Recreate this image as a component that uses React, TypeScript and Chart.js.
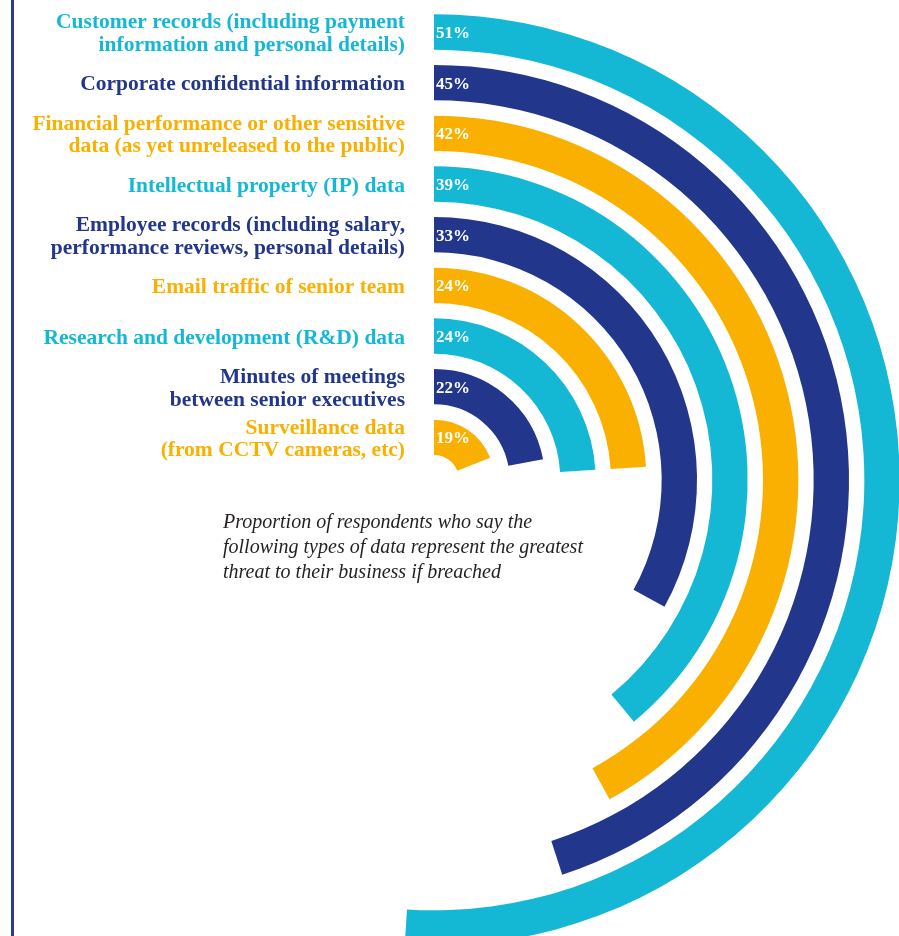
import { useEffect, useRef } from "react";
import { Chart, DoughnutController, ArcElement } from "chart.js";

Chart.register(DoughnutController, ArcElement);

// ---- data ----
const categories: string[][] = [
  ["Customer records (including payment", "information and personal details)"],
  ["Corporate confidential information"],
  ["Financial performance or other sensitive", "data (as yet unreleased to the public)"],
  ["Intellectual property (IP) data"],
  ["Employee records (including salary,", "performance reviews, personal details)"],
  ["Email traffic of senior team"],
  ["Research and development (R&D) data"],
  ["Minutes of meetings", "between senior executives"],
  ["Surveillance data", "(from CCTV cameras, etc)"],
];
const values: number[] = [51, 45, 42, 39, 33, 24, 24, 22, 19];
const captionLines: string[] = [
  "Proportion of respondents who say the",
  "following types of data represent the greatest",
  "threat to their business if breached",
];

// ---- styles ----
const TEAL = "#14b8d4";
const NAVY = "#22368b";
const ORANGE = "#f9b000";
const ringColors = [TEAL, NAVY, ORANGE, TEAL, NAVY, ORANGE, TEAL, NAVY, ORANGE];
const CLEAR = "rgba(0,0,0,0)";
const RING_W = 36;
const GAP_W = 14.66;
const CUTOUT = 24.7;

export default function App() {
  const canvasRef = useRef<HTMLCanvasElement | null>(null);

  useEffect(() => {
    if (!canvasRef.current) return;
    const datasets: any[] = [];
    const ringIndex: number[] = [];
    values.forEach((v, i) => {
      ringIndex.push(datasets.length);
      datasets.push({
        label: categories[i].join(" "),
        data: [v, 100 - v],
        backgroundColor: [ringColors[i], CLEAR],
        hoverBackgroundColor: [ringColors[i], CLEAR],
        borderWidth: 0,
        hoverBorderWidth: 0,
        borderAlign: "inner",
        weight: RING_W,
      });
      if (i < values.length - 1) {
        datasets.push({
          label: "gap",
          data: [100],
          backgroundColor: [CLEAR],
          hoverBackgroundColor: [CLEAR],
          borderWidth: 0,
          hoverBorderWidth: 0,
          borderAlign: "inner",
          weight: GAP_W,
        });
      }
    });

    const labelPlugin = {
      id: "ringLabels",
      afterDatasetsDraw(chart: any) {
        const ctx = chart.ctx as CanvasRenderingContext2D;
        ctx.save();
        ringIndex.forEach((dsIndex, i) => {
          const meta = chart.getDatasetMeta(dsIndex);
          const arc = meta.data[0];
          const p = arc.getProps(["x", "y", "innerRadius", "outerRadius", "startAngle"], true);
          const mid = (p.innerRadius + p.outerRadius) / 2;
          const sx = p.x + mid * Math.cos(p.startAngle);
          const sy = p.y + mid * Math.sin(p.startAngle);

          // category label
          const fs = 21.5;
          const lh = 22.7;
          ctx.font = `bold ${fs}px "Liberation Serif", "Times New Roman", serif`;
          ctx.textAlign = "right";
          ctx.textBaseline = "alphabetic";
          ctx.fillStyle = ringColors[i];
          const lines = categories[i];
          lines.forEach((line, j) => {
            const cy = sy + (j - (lines.length - 1) / 2) * lh;
            ctx.fillText(line, sx - 29, cy + 0.33 * fs + 0.6);
          });

          // value label
          ctx.font = `bold 17px "Liberation Serif", "Times New Roman", serif`;
          ctx.textAlign = "left";
          ctx.fillStyle = "#ffffff";
          ctx.fillText(`${values[i]}%`, sx + 2, sy + 6);
        });
        ctx.restore();
      },
    };

    const chart = new Chart(canvasRef.current, {
      type: "doughnut",
      data: { labels: ["value", "rest"], datasets },
      options: {
        responsive: true,
        maintainAspectRatio: false,
        animation: false,
        events: [],
        cutout: CUTOUT,
        layout: { padding: { top: 14, left: 0, right: 0, bottom: 0 } },
        elements: { arc: { borderWidth: 0 } },
        plugins: {
          legend: { display: false },
          tooltip: { enabled: false },
        },
      } as any,
      plugins: [labelPlugin],
    });
    return () => chart.destroy();
  }, []);

  return (
    <div
      style={{
        position: "absolute",
        left: 0,
        top: 0,
        width: 899,
        height: 936,
        overflow: "hidden",
        background: "#ffffff",
      }}
    >
      <div
        style={{
          position: "absolute",
          left: 11,
          top: 0,
          width: 2.5,
          height: 936,
          background: "#293b93",
        }}
      />
      <div style={{ position: "absolute", left: -32, top: 0, width: 932, height: 946 }}>
        <canvas ref={canvasRef} />
      </div>
      <div
        style={{
          position: "absolute",
          left: 223,
          top: 508.75,
          fontFamily: '"Liberation Serif", "Times New Roman", serif',
          fontStyle: "italic",
          fontSize: 20,
          lineHeight: "25px",
          color: "#231f20",
          whiteSpace: "nowrap",
        }}
      >
        {captionLines.map((l, i) => (
          <div key={i}>{l}</div>
        ))}
      </div>
    </div>
  );
}
